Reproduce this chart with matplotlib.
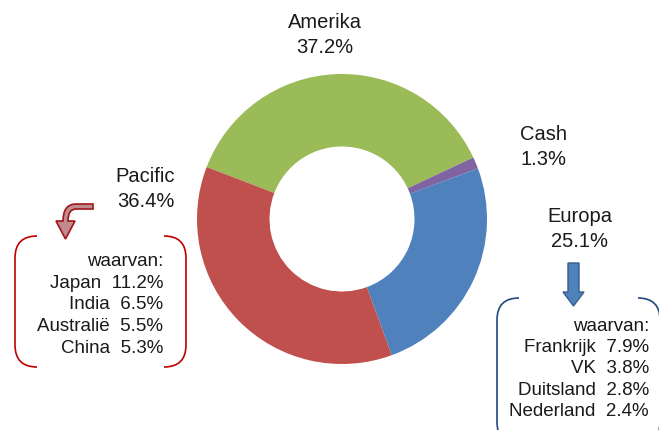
import matplotlib
matplotlib.use("Agg")
import matplotlib.pyplot as plt
from matplotlib.path import Path
from matplotlib.patches import PathPatch, Polygon

# Regions and shares (%)
regions = ["Amerika", "Cash", "Europa", "Pacific"]
shares = [37.2, 1.3, 25.1, 36.4]
colors = ["#9BBB59", "#8064A2", "#4F81BD", "#C0504D"]

# Breakdown lists
pacific_names = ["Japan", "India", "Australië", "China"]
pacific_vals = [11.2, 6.5, 5.5, 5.3]
europa_names = ["Frankrijk", "VK", "Duitsland", "Nederland"]
europa_vals = [7.9, 3.8, 2.8, 2.4]

plt.rcParams["font.family"] = ["Liberation Sans", "DejaVu Sans"]

W, H = 659, 431
fig = plt.figure(figsize=(W / 100, H / 100), dpi=100)

# donut: centre (342, 220) px, radius 145 px
cx, cy, R = 342, 220, 145
ax = fig.add_axes([(cx - R) / W, (H - cy - R) / H, 2 * R / W, 2 * R / H])
ax.pie(shares, colors=colors, startangle=159, counterclock=False,
       radius=1, wedgeprops=dict(width=0.5, linewidth=0))
ax.set_xlim(-1, 1)
ax.set_ylim(-1, 1)
ax.set_aspect("equal")
ax.axis("off")

# overlay in pixel coordinates for labels and shapes
ov = fig.add_axes([0, 0, 1, 1])
ov.set_xlim(0, W)
ov.set_ylim(H, 0)
ov.axis("off")

fs = 14.5
txt = "#1a1a1a"
ls = 1.4
ov.text(325, 35, f"{regions[0]}\n{shares[0]}%", ha="center", va="center",
        fontsize=fs, color=txt, linespacing=ls)
ov.text(520, 147, f"{regions[1]}\n{shares[1]}%", ha="left", va="center",
        fontsize=fs, color=txt, linespacing=ls)
ov.text(580, 229, f"{regions[2]}\n{shares[2]}%", ha="center", va="center",
        fontsize=fs, color=txt, linespacing=ls)
ov.text(175, 189, f"{regions[3]}\n{shares[3]}%", ha="right", va="center",
        fontsize=fs, color=txt, linespacing=ls)


def bracket(x0, x1, yt, yb, r, color):
    for xe, s in [(x0, 1), (x1, -1)]:
        verts = [(xe + s * r, yt), (xe, yt), (xe, yt + r),
                 (xe, yb - r), (xe, yb), (xe + s * r, yb)]
        codes = [Path.MOVETO, Path.CURVE3, Path.CURVE3,
                 Path.LINETO, Path.CURVE3, Path.CURVE3]
        ov.add_patch(PathPatch(Path(verts, codes), fill=False,
                               edgecolor=color, linewidth=1.2))


bracket(15, 186, 237, 368, 22, "#C00000")
bracket(497, 660, 299, 445, 22, "#1F497D")

fs2 = 13.5
lines = ["waarvan:"] + [f"{n}  {v}%" for n, v in zip(pacific_names, pacific_vals)]
ov.text(163, 305, "\n".join(lines), ha="right", va="center",
        fontsize=fs2, color=txt, linespacing=1.38)
lines = ["waarvan:"] + [f"{n}  {v}%" for n, v in zip(europa_names, europa_vals)]
ov.text(649, 369, "\n".join(lines), ha="right", va="center",
        fontsize=fs2, color=txt, linespacing=1.33)

# curved red arrow
verts = [(93, 205), (76, 205), (63, 205), (63, 222), (56, 222), (65.5, 240),
         (75, 222), (68, 222), (68, 210), (76, 210), (93, 210), (93, 205)]
codes = [Path.MOVETO, Path.LINETO, Path.CURVE3, Path.CURVE3, Path.LINETO,
         Path.LINETO, Path.LINETO, Path.LINETO, Path.CURVE3, Path.CURVE3,
         Path.LINETO, Path.CLOSEPOLY]
ov.add_patch(PathPatch(Path(verts, codes), facecolor="#C08B8C",
                       edgecolor="#A0161B", linewidth=1.2))

# blue down arrow
ov.add_patch(Polygon([(568, 264), (579, 264), (579, 293), (584, 293),
                      (573.5, 307), (563, 293), (568, 293)], closed=True,
                     facecolor="#4F81BD", edgecolor="#385D8A", linewidth=1))

fig.savefig("out.png", dpi=100)
